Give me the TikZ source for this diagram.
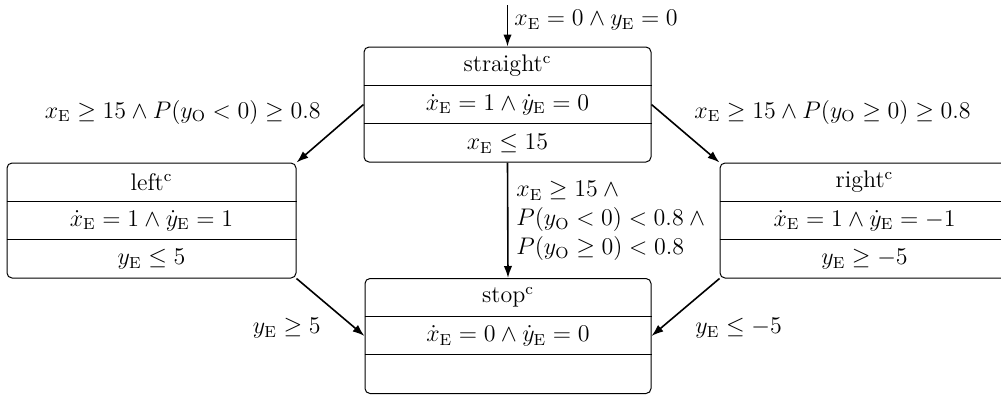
\documentclass[tikz,border=0pt]{standalone}
\usetikzlibrary{arrows.meta,calc}
\begin{document}
\begin{tikzpicture}[x=0.5pt,y=-0.5pt,
  every node/.style={font=\fontsize{12}{14.4}\selectfont},
  state/.style={draw,line width=0.5pt,rounded corners=2.5pt,minimum width=#1,minimum height=57.5pt,inner sep=0pt},
  divider/.style={line width=0.5pt},
  txt/.style={inner sep=0pt},
  arr/.style={line width=0.8pt,-{Latex[length=6pt,width=4.2pt]}}
]
\useasboundingbox (0,0) rectangle (1001,398);
% states
\node[state=143.5pt] (straight) at (507.5,104.5) {};
\node[state=144.5pt] (left) at (151.5,220.5) {};
\node[state=144.5pt] (right) at (864.5,220.5) {};
\node[state=143pt] (stop) at (508,336) {};
% dividers
\foreach \s in {straight,left,right,stop}{
  \draw[divider] ($(\s.north west)+(0,38.5)$) -- ($(\s.north east)+(0,38.5)$);
  \draw[divider] ($(\s.north west)+(0,76.5)$) -- ($(\s.north east)+(0,76.5)$);
}
% texts
\node[txt] (straightname) at ($(straight.north)+(0,19.5)$) {straight$^{\mathrm{c}}$};
\node[txt] (straightflow) at (straight.center) {$\dot{x}_{\mathrm{E}}=1\wedge\dot{y}_{\mathrm{E}}=0$};
\node[txt] (straightinv) at ($(straight.south)+(0,-19)$) {$x_{\mathrm{E}}\leq 15$};
\node[txt] (leftname) at ($(left.north)+(0,19.5)$) {left$^{\mathrm{c}}$};
\node[txt] (leftflow) at (left.center) {$\dot{x}_{\mathrm{E}}=1\wedge\dot{y}_{\mathrm{E}}=1$};
\node[txt] (leftinv) at ($(left.south)+(0,-19)$) {$y_{\mathrm{E}}\leq 5$};
\node[txt] (rightname) at ($(right.north)+(0,19.5)$) {right$^{\mathrm{c}}$};
\node[txt] (rightflow) at (right.center) {$\dot{x}_{\mathrm{E}}=1\wedge\dot{y}_{\mathrm{E}}=-1$};
\node[txt] (rightinv) at ($(right.south)+(0,-19)$) {$y_{\mathrm{E}}\geq -5$};
\node[txt] (stopname) at ($(stop.north)+(0,19.5)$) {stop$^{\mathrm{c}}$};
\node[txt] (stopflow) at (stop.center) {$\dot{x}_{\mathrm{E}}=0\wedge\dot{y}_{\mathrm{E}}=0$};
% connectors
\coordinate (init) at (507.5,5);
\draw[arr] (init) -- (straight.north);
\draw[arr] (straight.west) -- (left.north east);
\draw[arr] (straight.east) -- (right.north west);
\draw[arr] (straight.south) -- (stop.north);
\draw[arr] (left.south east) -- (stop.west);
\draw[arr] (right.south west) -- (stop.east);
% labels
\node[txt,anchor=west] (linit) at (514,20) {$x_{\mathrm{E}}=0\wedge y_{\mathrm{E}}=0$};
\node[txt,anchor=east] (lleft) at (321,112) {$x_{\mathrm{E}}\geq 15\wedge P(y_{\mathrm{O}}<0)\geq 0.8$};
\node[txt,anchor=west] (lright) at (694,112) {$x_{\mathrm{E}}\geq 15\wedge P(y_{\mathrm{O}}\geq 0)\geq 0.8$};
\node[txt,anchor=north west,align=left] (lstop) at (516,181) {$x_{\mathrm{E}}\geq 15\wedge{}$\\$P(y_{\mathrm{O}}<0)<0.8\wedge{}$\\$P(y_{\mathrm{O}}\geq 0)<0.8$};
\node[txt,anchor=east] (lleftstop) at (321,328) {$y_{\mathrm{E}}\geq 5$};
\node[txt,anchor=west] (lrightstop) at (695,328) {$y_{\mathrm{E}}\leq -5$};
\end{tikzpicture}
\end{document}
